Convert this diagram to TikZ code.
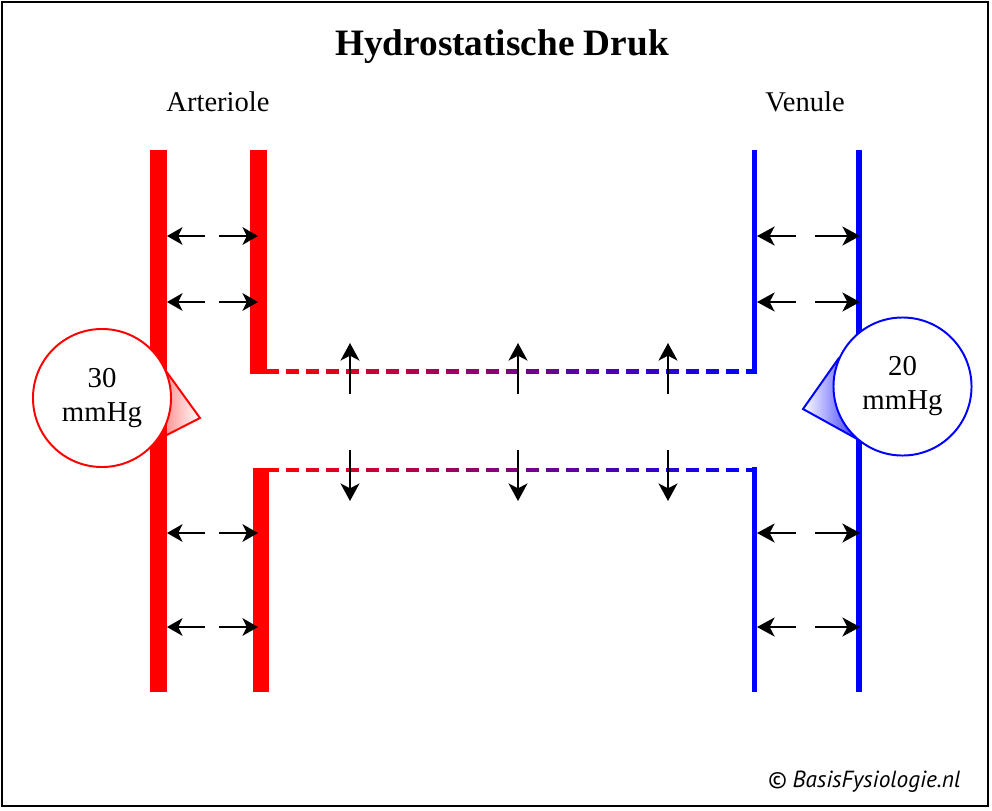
\documentclass[tikz,border=0pt]{standalone}
\usepackage{fontspec}
\setmainfont{Liberation Serif}
\newfontfamily\sitefont{PT Sans}
\usetikzlibrary{arrows.meta,backgrounds}

\tikzset{
  wand/.style={line width=11.4pt},
  dunwand/.style={line width=4.2pt},
  capillair/.style={line width=3.4pt},
  pijl/.style={line width=1.5pt,-{Stealth[length=11pt,width=12.5pt,inset=3pt]}},
  grotepijl/.style={line width=1.5pt,-{Stealth[length=12.5pt,width=13.5pt,inset=3.5pt]}},
  opschrift/.style={anchor=base,font=\fontsize{20.3}{24}\selectfont},
  ballon/.style={circle,draw,fill=white,line width=1.4pt,minimum size=3.45cm,
    inner sep=0pt,align=center,font=\fontsize{20.5}{24.2}\selectfont},
}

\begin{document}
\begin{tikzpicture}[x=0.025cm,y=-0.025cm]
  \useasboundingbox (0,0) rectangle (992,810);
  \draw[line width=1.6pt] (2,2) rectangle (988,806);

  \node[anchor=base,font=\fontsize{26.5}{31}\selectfont\bfseries] (titel) at (502,55) {Hydrostatische Druk};
  \node[opschrift] (arteriole) at (218,111) {Arteriole};
  \node[opschrift] (venule) at (805,111) {Venule};

  % wanden arteriole
  \draw[wand,red] (158.5,150) -- (158.5,692);
  \draw[wand,red] (258.5,150) -- (258.5,374);
  \draw[wand,red] (261,468) -- (261,692);

  % wanden venule
  \draw[dunwand,blue] (754.5,150) -- (754.5,374);
  \draw[dunwand,blue] (754.5,467) -- (754.5,692);
  \draw[dunwand,blue] (859,150) -- (859,692);

  % capillair, van rood naar blauw
  \foreach \y in {371.5,470}{
    \foreach \i in {0,...,24}{
      \pgfmathsetmacro\xa{266+20*\i}
      \pgfmathsetmacro\xb{min(\xa+13,757)}
      \pgfmathtruncatemacro\p{100-100*\i/24}
      \draw[capillair,red!\p!blue] (\xa,\y) -- (\xb,\y);
    }
  }

  % filtratie door de wand
  \foreach \y in {236,302,533,627}{
    \draw[pijl] (205,\y) -- (167,\y);
    \draw[pijl] (219,\y) -- (258,\y);
    \draw[grotepijl] (796,\y) -- (757,\y);
    \draw[grotepijl] (815,\y) -- (860,\y);
  }
  \foreach \x in {350,518,668}{
    \draw[grotepijl] (\x,394) -- (\x,343);
    \draw[grotepijl] (\x,450) -- (\x,501);
  }

  % drukballonnen
  \node[ballon,draw=red] (druk30) at (102,398) {30\\mmHg};
  \node[ballon,draw=blue] (druk20) at (902.5,386.5) {20\\mmHg};
  \coordinate (punt30) at (200,418);
  \coordinate (punt20) at (803,409);
  \begin{scope}[on background layer]
    \shadedraw[left color=red!50,right color=white,draw=red,line width=1.4pt]
      (druk30.21) -- (punt30) -- (druk30.-36) -- cycle;
    \shadedraw[left color=white,right color=blue!75,draw=blue,line width=1.4pt]
      (druk20.157) -- (punt20) -- (druk20.227) -- cycle;
  \end{scope}

  \node[anchor=base,font=\sitefont\itshape\fontsize{16.6}{19}\selectfont] (bron) at (864,787) {© BasisFysiologie.nl};
\end{tikzpicture}
\end{document}
